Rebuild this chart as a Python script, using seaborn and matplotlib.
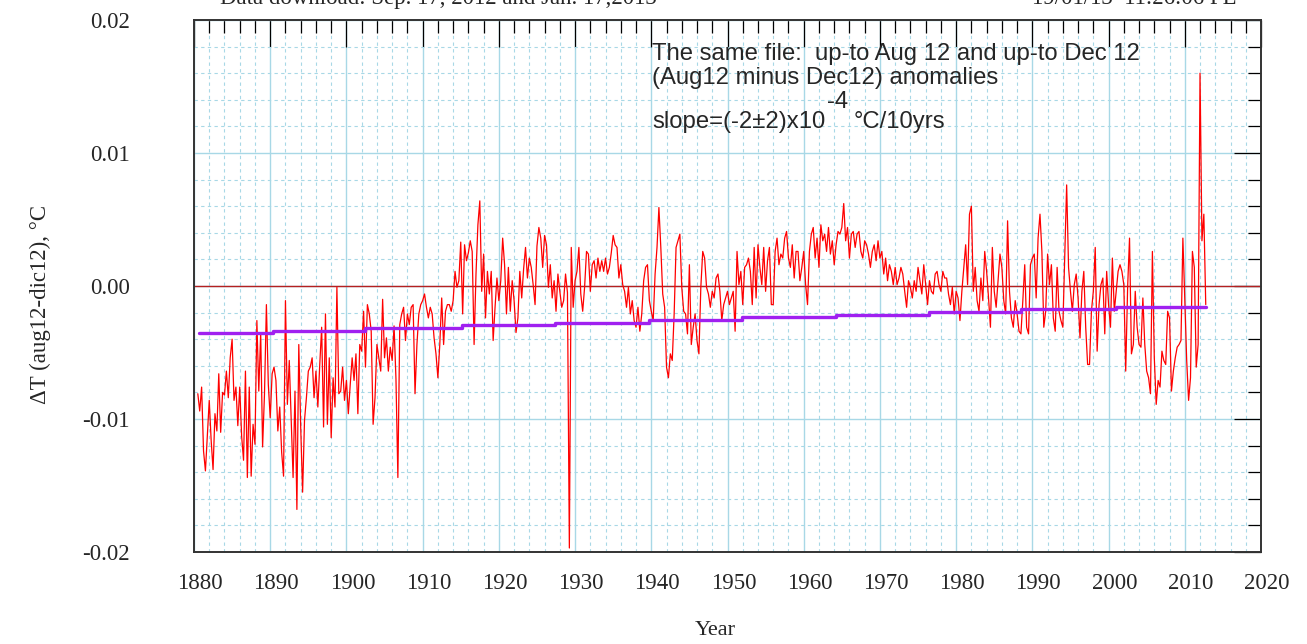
import numpy as np
import pandas as pd
import matplotlib
matplotlib.use("Agg")
import matplotlib.pyplot as plt
import matplotlib.transforms as mtransforms
from matplotlib.ticker import MultipleLocator, FuncFormatter
import seaborn as sns

# values, in units of 0.001 degC, one every 3 months
# first decade starts at 1880.5, the others at the decade year
dt_1880s = [-8.1, -9.4, -7.6, -12.4, -13.9, -11.3, -8.6, -11.6, -13.8, -9.6,
            -10.9, -6.6, -11.0, -8.0, -8.2, -6.4, -8.4, -5.4, -4.0, -8.6,
            -7.6, -10.5, -7.6, -11.3, -13.1, -6.4, -14.4, -7.6, -14.3, -10.4,
            -11.9, -2.6, -7.9, -3.5, -12.1, -8.1, -1.4, -7.4]
dt_1890s = [-9.9, -6.6, -6.1, -7.1, -10.9, -9.1, -12.5, -14.3, -1.1, -8.9,
            -5.6, -10.1, -14.4, -7.9, -16.8, -4.4, -10.6, -15.5, -10.1, -8.4,
            -6.4, -6.1, -5.4, -8.4, -6.4, -9.1, -5.9, -3.1, -10.6, -2.1,
            -10.4, -5.4, -11.4, -6.9, -9.1, -0.1, -8.1, -7.9, -6.1, -8.6]
dt_1900s = [-7.1, -9.6, -7.4, -5.4, -7.1, -5.1, -9.6, -4.4, -4.9, -1.9,
            -6.1, -1.4, -2.1, -3.4, -10.4, -8.4, -4.4, -5.4, -6.4, -1.0,
            -5.4, -3.9, -6.4, -4.6, -5.6, -3.0, -7.0, -14.4, -2.9, -2.1,
            -1.6, -4.1, -2.1, -2.9, -1.6, -1.4, -8.1, -4.4, -2.1, -1.4]
dt_1910s = [-1.1, -0.6, -1.6, -2.4, -1.6, -2.1, -3.9, -5.1, -6.9, -4.4,
            -0.9, -4.4, -1.9, -1.4, -1.4, -1.9, -1.1, 1.1, -0.1, 0.4,
            3.3, -2.1, 3.1, 1.9, 2.5, 3.4, 2.6, -4.4, 0.9, 4.6,
            6.4, -0.4, 2.4, -2.4, 1.1, -0.6, 1.1, -4.1, -1.6, 0.6]
dt_1920s = [-1.1, 0.4, 3.6, 1.6, -2.1, 1.4, -1.9, 0.4, -1.1, -3.5,
            -2.4, 1.1, -0.9, 1.3, 2.9, 0.6, 2.1, 1.4, 0.1, -1.4,
            3.0, 4.4, 3.6, 1.4, 3.8, 3.1, -0.1, 1.6, -0.9, 0.4,
            -1.9, 0.9, -0.4, -1.6, -1.1, 0.9, -0.5, -19.7, 2.9, -1.6]
dt_1930s = [0.4, 1.1, 2.9, -0.6, -1.9, -0.1, 2.6, 2.4, -0.4, 1.6,
            1.9, 0.6, 2.1, 1.1, 1.9, 1.1, 2.1, 0.9, 1.4, 2.5,
            3.8, 3.1, 2.9, 0.6, 1.6, 0.1, -0.4, -1.6, -0.1, -2.1,
            -1.1, -2.6, -3.1, -1.6, -3.4, -2.1, 0.4, 1.4, 1.6, -1.1]
dt_1940s = [-1.9, -2.6, 0.9, 2.9, 5.9, 2.9, -0.6, -1.6, -6.1, -6.9,
            -5.1, -5.6, -2.1, 2.9, 3.4, 3.9, -0.1, -1.9, -2.1, -3.6,
            1.6, -4.4, -3.1, -2.1, -4.1, -5.1, -0.1, 2.6, 2.1, -0.1,
            -0.6, -1.6, -0.4, -0.9, 0.6, 0.9, -0.4, -2.6, -1.4, -0.9]
dt_1950s = [-0.4, -1.4, -0.9, -0.4, -3.4, 2.6, 0.1, 1.1, -1.4, 1.4,
            1.6, 2.1, 1.1, -1.4, 2.9, -0.9, 3.1, 1.4, 0.1, 2.9,
            -0.4, 1.9, 2.9, -1.4, -1.4, 2.6, 3.6, 1.6, 2.4, 2.1,
            3.6, 4.1, 2.1, 1.4, 3.1, 0.6, 2.6, 2.6, 0.4, 1.4]
dt_1960s = [2.6, 0.1, -1.4, 2.6, 3.9, 4.4, 2.1, 3.6, 1.4, 4.6,
            3.4, 3.9, 2.6, 4.4, 2.4, 3.4, 1.6, 3.1, 4.1, 3.9,
            4.4, 6.2, 3.4, 4.4, 2.1, 3.9, 4.1, 2.9, 3.9, 4.1,
            2.6, 2.1, 3.4, 3.1, 2.4, 1.4, 2.6, 3.1, 1.9, 3.4]
dt_1970s = [2.1, 2.6, 0.9, 2.1, 0.4, 1.6, 1.1, 0.1, 1.4, 0.1,
            0.6, 1.4, 0.9, -0.4, -1.6, 0.4, -0.1, -0.9, 0.4, -0.4,
            1.4, 0.4, -0.6, 1.6, 0.1, -1.4, 0.4, -0.4, -0.6, 0.9,
            1.1, 0.1, -0.4, 1.1, 0.6, 0.6, -0.6, -1.4, -0.1, -2.1]
dt_1980s = [-0.4, -0.9, -2.6, -0.4, 1.4, 3.1, 0.1, 5.4, 6.0, -0.4,
            1.4, -1.1, -1.9, 0.6, -1.1, 2.6, 1.1, -0.9, -3.1, 2.9,
            -0.4, -1.6, 0.4, 2.4, 1.4, -1.1, -2.1, 4.9, -0.4, -2.4,
            -3.1, -1.1, -2.1, -3.4, -3.6, -1.1, 1.6, -3.1, -3.6, 1.6]
dt_1990s = [2.1, 2.4, -0.9, 3.6, 5.4, 2.6, -3.1, -1.9, 2.4, 0.1,
            1.6, -2.4, -3.4, 1.4, -1.9, -2.6, -3.1, 2.1, 7.6, 1.4,
            -0.4, -1.9, 0.1, 0.9, -0.9, -3.9, -0.4, 1.1, -3.1, -5.9,
            -5.9, -1.9, -0.4, 2.9, -4.9, -1.4, 0.1, 0.6, -3.6, 1.1]
dt_2000s = [-1.4, -3.1, 2.1, -1.9, -0.4, 1.1, 1.6, 1.1, 0.1, -6.4,
            -0.1, 3.6, -5.1, -4.4, -0.4, -3.1, -4.4, -4.6, -0.9, -4.4,
            -6.4, -6.9, -8.1, 2.6, -5.4, -8.9, -7.1, -7.6, -4.9, -5.6,
            -5.9, -1.9, -2.4, -7.9, -6.4, -5.4, -4.6, -4.4, -4.1, 3.6]
dt_2010s = [-1.1, -5.6, -8.6, -6.9, 2.6, 1.4, -6.1, -4.4, 16.0, 3.4, 5.4, -1.4]

decades = [(1880.5, dt_1880s), (1890, dt_1890s), (1900, dt_1900s), (1910, dt_1910s),
           (1920, dt_1920s), (1930, dt_1930s), (1940, dt_1940s), (1950, dt_1950s),
           (1960, dt_1960s), (1970, dt_1970s), (1980, dt_1980s), (1990, dt_1990s),
           (2000, dt_2000s), (2010, dt_2010s)]

# linear fit, as drawn (stepped), units of 0.001 degC
trend_years = [1880.6, 1890.4, 1902.5, 1915.2, 1927.4, 1939.7, 1951.9,
               1964.2, 1976.4, 1988.5, 2001.0, 2012.8]
trend_vals = [-3.55, -3.38, -3.15, -2.95, -2.75, -2.53, -2.35,
              -2.18, -1.95, -1.75, -1.55]

x_ticks = list(range(1880, 2021, 10))
y_ticks = [-0.02, -0.01, 0.0, 0.01, 0.02]

rows = []
for start, vals in decades:
    for i, v in enumerate(vals):
        rows.append((start + 0.25 * i, v * 1e-3))
df = pd.DataFrame(rows, columns=["year", "dT"])
trend = pd.DataFrame({"year": trend_years,
                      "dT": [v * 1e-3 for v in trend_vals + trend_vals[-1:]]})

sns.set_style("white")
plt.rcParams["font.family"] = ["Liberation Serif", "DejaVu Serif"]
plt.rcParams["axes.unicode_minus"] = False

fig = plt.figure(figsize=(13.07, 6.44), dpi=100)
ax = fig.add_axes([194 / 1307, 1 - 552 / 644, 1067 / 1307, 532 / 644])

grid_c = "#a8d8e6"
ax.set_xlim(1880, 2020)
ax.set_ylim(-0.02, 0.02)
ax.xaxis.set_major_locator(MultipleLocator(10))
ax.xaxis.set_minor_locator(MultipleLocator(2))
ax.yaxis.set_major_locator(MultipleLocator(0.01))
ax.yaxis.set_minor_locator(MultipleLocator(0.002))
ax.grid(which="major", color=grid_c, lw=1.0, ls="-", zorder=0)
ax.grid(which="minor", color=grid_c, lw=0.8, ls=(0, (3, 3)), zorder=0)
ax.set_axisbelow(True)

ax.axhline(0, color="#b52020", lw=1.0, zorder=2)
sns.lineplot(data=df, x="year", y="dT", ax=ax, color="#ff0000", lw=0.9,
             estimator=None, sort=False, zorder=3)
sns.lineplot(data=trend, x="year", y="dT", ax=ax, color="#a020f0", lw=2.4,
             estimator=None, sort=False, drawstyle="steps-post", zorder=4)

ax.tick_params(which="both", direction="in", top=True, right=True,
               color="black", width=0.9)
ax.tick_params(which="major", length=19.5)
ax.tick_params(which="minor", length=9.5)
ax.tick_params(axis="x", which="major", labelsize=16.5, pad=15)
ax.tick_params(axis="y", which="major", labelsize=16.5, pad=46)
ax.set_xticks(x_ticks)
ax.set_yticks(y_ticks)
ax.yaxis.set_major_formatter(FuncFormatter(lambda v, p: f"{v:.2f}"))
shift = mtransforms.ScaledTranslation(6 / 100, 0, fig.dpi_scale_trans)
for lab in ax.get_xticklabels():
    lab.set_transform(lab.get_transform() + shift)

for s in ax.spines.values():
    s.set_color("#333333")
    s.set_linewidth(1.4)

ax.set_xlabel("Year", fontsize=16)
ax.set_ylabel("\u0394T (aug12-dic12), \u00b0C", fontsize=16.5)
ax.xaxis.set_label_coords((715 - 194) / 1067, -(621 - 552) / 532)
ax.yaxis.set_label_coords(-(194 - 51) / 1067, (552 - 304) / 532)

sans = ["Liberation Sans", "DejaVu Sans"]
fs = 17.2
ax.text(1940.1, 0.0170, "The same file:  up-to Aug 12 and up-to Dec 12",
        family=sans, fontsize=fs, va="baseline")
ax.text(1940.1, 0.0152, "(Aug12 minus Dec12) anomalies",
        family=sans, fontsize=fs, va="baseline")
ax.text(1940.1, 0.0119, "slope=(-2\u00b12)x10",
        family=sans, fontsize=fs, va="baseline")
ax.text(1963.0, 0.0134, "-4", family=sans, fontsize=fs, va="baseline")
ax.text(1966.6, 0.0119, "\u00b0C/10yrs", family=sans, fontsize=fs, va="baseline")

fig.text(220 / 1307, 1 - 4 / 644, "Data download: Sep. 17, 2012 and Jan. 17,2013",
         fontsize=16.5, va="baseline")
fig.text(1237 / 1307, 1 - 4 / 644, "19/01/13  11:26:06 PL",
         fontsize=16.5, va="baseline", ha="right")

fig.savefig("out.png", dpi=100)
